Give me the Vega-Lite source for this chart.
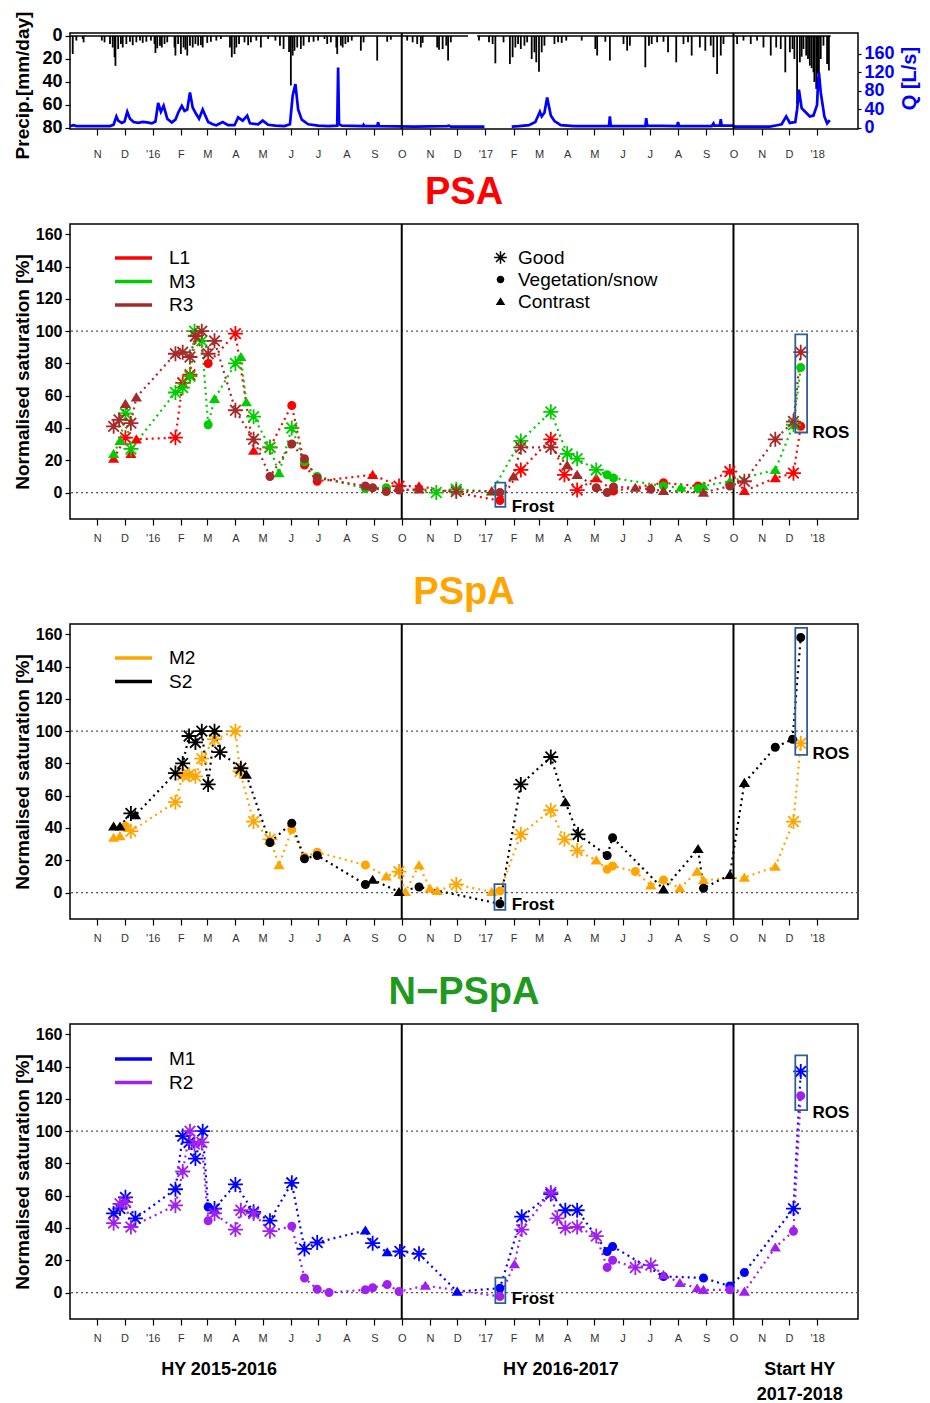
{
"$schema": "https://vega.github.io/schema/vega-lite/v6.json",
"padding": {"left": 12, "top": 10, "right": 8, "bottom": 0},
"background": "white",
"datasets": {
"precip": [
{"date":"2015-10-05","p":15.7},{"date":"2015-10-09","p":4},{"date":"2015-10-16","p":2.6},{"date":"2015-10-17","p":5.5},{"date":"2015-11-06","p":4},{"date":"2015-11-09","p":5.5},{"date":"2015-11-15","p":7},{"date":"2015-11-18","p":10},{"date":"2015-11-20","p":18.5},{"date":"2015-11-21","p":26},{"date":"2015-11-24","p":11.3},{"date":"2015-11-27","p":7},{"date":"2015-11-29","p":10},{"date":"2015-12-03","p":7},{"date":"2015-12-07","p":5},{"date":"2015-12-10","p":8},{"date":"2015-12-14","p":5.5},{"date":"2015-12-18","p":4},{"date":"2015-12-21","p":6},{"date":"2015-12-25","p":5},{"date":"2015-12-30","p":4},
{"date":"2016-01-03","p":7},{"date":"2016-01-04","p":14.8},{"date":"2016-01-06","p":10.7},{"date":"2016-01-09","p":8.4},{"date":"2016-01-11","p":10},{"date":"2016-01-14","p":7},{"date":"2016-01-17","p":5.5},{"date":"2016-01-25","p":10},{"date":"2016-01-26","p":17},{"date":"2016-01-29","p":7},{"date":"2016-02-01","p":15.7},{"date":"2016-02-04","p":10},{"date":"2016-02-06","p":11.9},{"date":"2016-02-08","p":17},{"date":"2016-02-11","p":8.4},{"date":"2016-02-14","p":10},{"date":"2016-02-17","p":7},{"date":"2016-02-20","p":8.4},{"date":"2016-02-23","p":8},{"date":"2016-02-25","p":10},{"date":"2016-03-01","p":6},{"date":"2016-03-05","p":5},{"date":"2016-03-11","p":4},{"date":"2016-03-16","p":2.6},{"date":"2016-03-26","p":10},{"date":"2016-03-28","p":18.5},{"date":"2016-03-31","p":15.7},{"date":"2016-04-02","p":10},{"date":"2016-04-05","p":7},{"date":"2016-04-11","p":5.5},{"date":"2016-04-15","p":8},{"date":"2016-04-18","p":5.5},{"date":"2016-04-24","p":4},{"date":"2016-04-29","p":10},{"date":"2016-05-07","p":2.6},{"date":"2016-05-15","p":4},{"date":"2016-05-20","p":8.4},{"date":"2016-05-24","p":11.3},{"date":"2016-05-30","p":14},{"date":"2016-06-01","p":43},{"date":"2016-06-03","p":17},{"date":"2016-06-05","p":12.8},{"date":"2016-06-08","p":10},{"date":"2016-06-12","p":11.3},{"date":"2016-06-15","p":8.4},{"date":"2016-06-21","p":5.5},{"date":"2016-06-26","p":5},{"date":"2016-07-01","p":4},{"date":"2016-07-08","p":2.6},{"date":"2016-07-11","p":7},{"date":"2016-07-15","p":5.5},{"date":"2016-07-21","p":10},{"date":"2016-07-22","p":15.7},{"date":"2016-07-26","p":8.4},{"date":"2016-07-28","p":10},{"date":"2016-07-31","p":7},{"date":"2016-08-03","p":5.5},{"date":"2016-08-07","p":4},{"date":"2016-08-17","p":12.8},{"date":"2016-08-20","p":5.5},{"date":"2016-09-04","p":21.4},{"date":"2016-09-15","p":5},{"date":"2016-09-19","p":3.2},
{"date":"2016-10-07","p":4},{"date":"2016-10-13","p":5.5},{"date":"2016-10-18","p":7},{"date":"2016-10-22","p":10},{"date":"2016-10-24","p":6},{"date":"2016-11-09","p":10},{"date":"2016-11-11","p":11.9},{"date":"2016-11-15","p":11.3},{"date":"2016-11-19","p":8.4},{"date":"2016-11-21","p":21.4},{"date":"2016-11-24","p":5.5},{"date":"2016-12-25","p":4},
{"date":"2017-01-05","p":5.5},{"date":"2017-01-09","p":7},{"date":"2017-01-12","p":23.8},{"date":"2017-01-21","p":5.5},{"date":"2017-01-28","p":24.4},{"date":"2017-01-31","p":18.5},{"date":"2017-02-03","p":10},{"date":"2017-02-06","p":7},{"date":"2017-02-09","p":11.3},{"date":"2017-02-13","p":8.4},{"date":"2017-02-16","p":5.5},{"date":"2017-02-21","p":20},{"date":"2017-02-24","p":14.2},{"date":"2017-02-26","p":22.9},{"date":"2017-03-01","p":31},{"date":"2017-03-04","p":14.2},{"date":"2017-03-07","p":8.4},{"date":"2017-03-18","p":7},{"date":"2017-03-22","p":5.5},{"date":"2017-03-26","p":6},{"date":"2017-03-31","p":4},{"date":"2017-04-17","p":4},{"date":"2017-05-02","p":11.3},{"date":"2017-05-04","p":17},{"date":"2017-05-13","p":5},{"date":"2017-05-18","p":21.4},{"date":"2017-06-02","p":7},{"date":"2017-06-06","p":12.8},{"date":"2017-06-09","p":8.4},{"date":"2017-06-26","p":27.2},{"date":"2017-06-30","p":8.4},{"date":"2017-07-03","p":7},{"date":"2017-07-09","p":5.5},{"date":"2017-07-16","p":5},{"date":"2017-07-21","p":14.2},{"date":"2017-07-30","p":22.9},{"date":"2017-08-07","p":7},{"date":"2017-08-12","p":5.5},{"date":"2017-08-16","p":17},{"date":"2017-08-25","p":10},{"date":"2017-08-31","p":12.8},{"date":"2017-09-06","p":8.4},{"date":"2017-09-09","p":18.5},{"date":"2017-09-13","p":33},{"date":"2017-09-17","p":17},{"date":"2017-09-20","p":7},{"date":"2017-10-05","p":7},{"date":"2017-10-12","p":4},{"date":"2017-10-20","p":7},{"date":"2017-10-27","p":4},{"date":"2017-11-03","p":10},{"date":"2017-11-11","p":17},{"date":"2017-11-17","p":10},{"date":"2017-11-22","p":11.3},{"date":"2017-11-27","p":31.6},{"date":"2017-12-02","p":14.2},{"date":"2017-12-05","p":11.3},{"date":"2017-12-07","p":20},{"date":"2017-12-10","p":59.1},{"date":"2017-12-13","p":22.9},{"date":"2017-12-15","p":18},{"date":"2017-12-17","p":11.3},{"date":"2017-12-20","p":17},{"date":"2017-12-22","p":20},{"date":"2017-12-24","p":25.8},{"date":"2017-12-26","p":28},{"date":"2017-12-28","p":31.6},{"date":"2017-12-29","p":40},{"date":"2017-12-31","p":46},{"date":"2018-01-01","p":33},{"date":"2018-01-03","p":37.4},{"date":"2018-01-05","p":20},{"date":"2018-01-08","p":8.4},{"date":"2018-01-12","p":24.4},{"date":"2018-01-14","p":30}
],
"flow": [
{"date":"2015-10-02","q":4,"seg":"a"},{"date":"2015-10-06","q":6,"seg":"a"},{"date":"2015-10-09","q":4,"seg":"a"},{"date":"2015-11-15","q":4,"seg":"a"},{"date":"2015-11-19","q":7,"seg":"a"},{"date":"2015-11-22","q":25,"seg":"a"},{"date":"2015-11-24","q":16,"seg":"a"},{"date":"2015-11-28","q":11,"seg":"a"},{"date":"2015-12-01","q":14,"seg":"a"},{"date":"2015-12-04","q":35,"seg":"a"},{"date":"2015-12-07","q":20,"seg":"a"},{"date":"2015-12-11","q":13,"seg":"a"},{"date":"2015-12-16","q":11,"seg":"a"},{"date":"2015-12-21","q":13,"seg":"a"},{"date":"2015-12-26","q":12,"seg":"a"},{"date":"2015-12-31","q":10,"seg":"a"},{"date":"2016-01-04","q":14,"seg":"a"},{"date":"2016-01-07","q":54,"seg":"a"},{"date":"2016-01-10","q":35,"seg":"a"},{"date":"2016-01-13","q":48,"seg":"a"},{"date":"2016-01-17","q":20,"seg":"a"},{"date":"2016-01-22","q":12,"seg":"a"},{"date":"2016-01-26","q":18,"seg":"a"},{"date":"2016-01-29","q":33,"seg":"a"},{"date":"2016-02-02","q":48,"seg":"a"},{"date":"2016-02-05","q":37,"seg":"a"},{"date":"2016-02-08","q":40,"seg":"a"},{"date":"2016-02-11","q":77,"seg":"a"},{"date":"2016-02-14","q":44,"seg":"a"},{"date":"2016-02-17","q":33,"seg":"a"},{"date":"2016-02-21","q":20,"seg":"a"},{"date":"2016-02-25","q":40,"seg":"a"},{"date":"2016-03-02","q":13,"seg":"a"},{"date":"2016-03-07","q":8,"seg":"a"},{"date":"2016-03-11","q":6,"seg":"a"},{"date":"2016-03-18","q":13,"seg":"a"},{"date":"2016-03-24","q":6,"seg":"a"},{"date":"2016-03-31","q":6,"seg":"a"},{"date":"2016-04-04","q":23,"seg":"a"},{"date":"2016-04-09","q":16,"seg":"a"},{"date":"2016-04-14","q":27,"seg":"a"},{"date":"2016-04-17","q":10,"seg":"a"},{"date":"2016-04-26","q":8,"seg":"a"},{"date":"2016-05-01","q":16,"seg":"a"},{"date":"2016-05-07","q":7,"seg":"a"},{"date":"2016-05-15","q":5,"seg":"a"},{"date":"2016-05-25","q":4,"seg":"a"},{"date":"2016-05-31","q":8,"seg":"a"},{"date":"2016-06-03","q":70,"seg":"a"},{"date":"2016-06-06","q":95,"seg":"a"},{"date":"2016-06-09","q":40,"seg":"a"},{"date":"2016-06-13","q":18,"seg":"a"},{"date":"2016-06-20","q":8,"seg":"a"},{"date":"2016-07-01","q":5,"seg":"a"},{"date":"2016-07-12","q":4,"seg":"a"},{"date":"2016-07-22","q":5,"seg":"a"},{"date":"2016-07-23","q":131,"seg":"a"},{"date":"2016-07-24","q":8,"seg":"a"},{"date":"2016-07-27","q":5,"seg":"a"},{"date":"2016-08-19","q":4,"seg":"a"},{"date":"2016-08-20","q":7,"seg":"a"},{"date":"2016-08-21","q":4,"seg":"a"},{"date":"2016-09-04","q":4,"seg":"a"},{"date":"2016-09-05","q":12,"seg":"a"},{"date":"2016-09-06","q":4,"seg":"a"},{"date":"2016-10-15","q":3,"seg":"a"},{"date":"2016-11-20","q":4,"seg":"a"},{"date":"2016-11-22","q":5,"seg":"a"},{"date":"2016-11-24","q":3,"seg":"a"},{"date":"2016-12-31","q":3,"seg":"a"},
{"date":"2017-01-30","q":3,"seg":"b"},{"date":"2017-02-07","q":4,"seg":"b"},{"date":"2017-02-18","q":6,"seg":"b"},{"date":"2017-02-25","q":13,"seg":"b"},{"date":"2017-03-02","q":35,"seg":"b"},{"date":"2017-03-04","q":25,"seg":"b"},{"date":"2017-03-07","q":33,"seg":"b"},{"date":"2017-03-10","q":66,"seg":"b"},{"date":"2017-03-14","q":27,"seg":"b"},{"date":"2017-03-18","q":15,"seg":"b"},{"date":"2017-03-25","q":6,"seg":"b"},{"date":"2017-04-09","q":4,"seg":"b"},{"date":"2017-05-17","q":4,"seg":"b"},{"date":"2017-05-18","q":25,"seg":"b"},{"date":"2017-05-19","q":4,"seg":"b"},{"date":"2017-06-26","q":4,"seg":"b"},{"date":"2017-06-27","q":21,"seg":"b"},{"date":"2017-06-28","q":5,"seg":"b"},{"date":"2017-07-31","q":4,"seg":"b"},{"date":"2017-08-01","q":13,"seg":"b"},{"date":"2017-08-02","q":4,"seg":"b"},{"date":"2017-09-07","q":4,"seg":"b"},{"date":"2017-09-09","q":10,"seg":"b"},{"date":"2017-09-10","q":5,"seg":"b"},{"date":"2017-09-16","q":5,"seg":"b"},{"date":"2017-09-17","q":19,"seg":"b"},{"date":"2017-09-18","q":5,"seg":"b"},{"date":"2017-10-01","q":5,"seg":"b"},{"date":"2017-10-02","q":3,"seg":"b"},{"date":"2017-11-10","q":3,"seg":"b"},{"date":"2017-11-18","q":6,"seg":"b"},{"date":"2017-11-23","q":8,"seg":"b"},{"date":"2017-11-28","q":25,"seg":"b"},{"date":"2017-12-02","q":11,"seg":"b"},{"date":"2017-12-08","q":13,"seg":"b"},{"date":"2017-12-10","q":40,"seg":"b"},{"date":"2017-12-12","q":83,"seg":"b"},{"date":"2017-12-15","q":43,"seg":"b"},{"date":"2017-12-20","q":33,"seg":"b"},{"date":"2017-12-24","q":25,"seg":"b"},{"date":"2017-12-28","q":27,"seg":"b"},{"date":"2018-01-01","q":50,"seg":"b"},{"date":"2018-01-02","q":99,"seg":"b"},{"date":"2018-01-03","q":120,"seg":"b"},{"date":"2018-01-05","q":77,"seg":"b"},{"date":"2018-01-09","q":25,"seg":"b"},{"date":"2018-01-12","q":10,"seg":"b"},{"date":"2018-01-15","q":17,"seg":"b"}
],
"psa": [
{"date":"2015-11-19","v":21,"series":"L1","q":"C"},{"date":"2015-12-02","v":34,"series":"L1","q":"G"},{"date":"2015-12-08","v":24,"series":"L1","q":"C"},{"date":"2015-12-14","v":33,"series":"L1","q":"C"},{"date":"2016-01-26","v":34,"series":"L1","q":"G"},{"date":"2016-02-03","v":68,"series":"L1","q":"G"},{"date":"2016-02-11","v":73,"series":"L1","q":"G"},{"date":"2016-02-17","v":97,"series":"L1","q":"G"},{"date":"2016-03-02","v":80,"series":"L1","q":"V"},{"date":"2016-04-01","v":98.5,"series":"L1","q":"G"},{"date":"2016-04-21","v":26,"series":"L1","q":"C"},{"date":"2016-05-09","v":28,"series":"L1","q":"G"},{"date":"2016-06-02","v":54,"series":"L1","q":"V"},{"date":"2016-06-16","v":17,"series":"L1","q":"V"},{"date":"2016-06-30","v":7,"series":"L1","q":"V"},{"date":"2016-08-30","v":11,"series":"L1","q":"C"},{"date":"2016-09-28","v":4,"series":"L1","q":"G"},{"date":"2016-10-20","v":4,"series":"L1","q":"C"},{"date":"2017-01-17","v":-5,"series":"L1","q":"V"},{"date":"2017-02-09","v":14,"series":"L1","q":"G"},{"date":"2017-03-14","v":33,"series":"L1","q":"G"},{"date":"2017-03-29","v":11,"series":"L1","q":"G"},{"date":"2017-04-12","v":1.5,"series":"L1","q":"G"},{"date":"2017-05-03","v":9,"series":"L1","q":"C"},{"date":"2017-05-22","v":1,"series":"L1","q":"V"},{"date":"2017-07-16","v":6,"series":"L1","q":"V"},{"date":"2017-08-23","v":4,"series":"L1","q":"V"},{"date":"2017-09-27","v":13,"series":"L1","q":"G"},{"date":"2017-10-13","v":1,"series":"L1","q":"C"},{"date":"2017-11-16","v":9,"series":"L1","q":"C"},{"date":"2017-12-06","v":12,"series":"L1","q":"G"},{"date":"2017-12-14","v":41,"series":"L1","q":"V"},
{"date":"2015-11-19","v":24,"series":"M3","q":"C"},{"date":"2015-11-26","v":32,"series":"M3","q":"C"},{"date":"2015-12-02","v":49,"series":"M3","q":"G"},{"date":"2015-12-08","v":27,"series":"M3","q":"G"},{"date":"2016-01-26","v":62,"series":"M3","q":"G"},{"date":"2016-02-03","v":65,"series":"M3","q":"G"},{"date":"2016-02-11","v":72,"series":"M3","q":"G"},{"date":"2016-02-16","v":100,"series":"M3","q":"G"},{"date":"2016-02-24","v":94,"series":"M3","q":"G"},{"date":"2016-03-02","v":42,"series":"M3","q":"V"},{"date":"2016-03-09","v":58,"series":"M3","q":"C"},{"date":"2016-04-01","v":80,"series":"M3","q":"G"},{"date":"2016-04-07","v":84,"series":"M3","q":"C"},{"date":"2016-04-13","v":56,"series":"M3","q":"C"},{"date":"2016-04-21","v":47,"series":"M3","q":"G"},{"date":"2016-05-09","v":28,"series":"M3","q":"G"},{"date":"2016-05-19","v":12,"series":"M3","q":"C"},{"date":"2016-06-02","v":40,"series":"M3","q":"G"},{"date":"2016-06-16","v":19,"series":"M3","q":"V"},{"date":"2016-06-30","v":10,"series":"M3","q":"V"},{"date":"2016-08-22","v":2.5,"series":"M3","q":"V"},{"date":"2016-09-14","v":3,"series":"M3","q":"V"},{"date":"2016-11-08","v":0,"series":"M3","q":"G"},{"date":"2016-11-30","v":2,"series":"M3","q":"G"},{"date":"2017-01-08","v":0.5,"series":"M3","q":"C"},{"date":"2017-02-09","v":32,"series":"M3","q":"G"},{"date":"2017-03-14","v":50,"series":"M3","q":"G"},{"date":"2017-04-01","v":24,"series":"M3","q":"G"},{"date":"2017-04-12","v":21,"series":"M3","q":"G"},{"date":"2017-05-03","v":14,"series":"M3","q":"G"},{"date":"2017-05-15","v":11,"series":"M3","q":"V"},{"date":"2017-05-22","v":9,"series":"M3","q":"V"},{"date":"2017-07-16","v":4,"series":"M3","q":"V"},{"date":"2017-08-04","v":3,"series":"M3","q":"C"},{"date":"2017-08-23","v":2.5,"series":"M3","q":"V"},{"date":"2017-08-29","v":4,"series":"M3","q":"C"},{"date":"2017-09-27","v":7,"series":"M3","q":"C"},{"date":"2017-11-16","v":14,"series":"M3","q":"C"},{"date":"2017-12-06","v":42,"series":"M3","q":"G"},{"date":"2017-12-14","v":77.5,"series":"M3","q":"V"},
{"date":"2015-11-19","v":41,"series":"R3","q":"G"},{"date":"2015-11-25","v":45,"series":"R3","q":"G"},{"date":"2015-12-02","v":55,"series":"R3","q":"C"},{"date":"2015-12-08","v":43,"series":"R3","q":"G"},{"date":"2015-12-14","v":59,"series":"R3","q":"C"},{"date":"2016-01-26","v":86,"series":"R3","q":"G"},{"date":"2016-02-03","v":87,"series":"R3","q":"G"},{"date":"2016-02-11","v":84,"series":"R3","q":"G"},{"date":"2016-02-17","v":97,"series":"R3","q":"G"},{"date":"2016-02-24","v":100,"series":"R3","q":"G"},{"date":"2016-03-02","v":86,"series":"R3","q":"G"},{"date":"2016-03-09","v":94,"series":"R3","q":"G"},{"date":"2016-04-01","v":51,"series":"R3","q":"G"},{"date":"2016-04-21","v":33,"series":"R3","q":"G"},{"date":"2016-05-09","v":10,"series":"R3","q":"V"},{"date":"2016-06-02","v":30,"series":"R3","q":"V"},{"date":"2016-06-16","v":21,"series":"R3","q":"V"},{"date":"2016-06-30","v":9,"series":"R3","q":"V"},{"date":"2016-08-22","v":4,"series":"R3","q":"V"},{"date":"2016-08-30","v":3,"series":"R3","q":"V"},{"date":"2016-09-14","v":0.6,"series":"R3","q":"V"},{"date":"2016-09-28","v":1.5,"series":"R3","q":"V"},{"date":"2016-10-20","v":2,"series":"R3","q":"C"},{"date":"2016-11-30","v":0.6,"series":"R3","q":"G"},{"date":"2017-01-08","v":1,"series":"R3","q":"C"},{"date":"2017-01-17","v":0,"series":"R3","q":"V"},{"date":"2017-02-01","v":10,"series":"R3","q":"C"},{"date":"2017-02-09","v":28,"series":"R3","q":"G"},{"date":"2017-03-14","v":28,"series":"R3","q":"G"},{"date":"2017-04-01","v":17,"series":"R3","q":"C"},{"date":"2017-04-12","v":11,"series":"R3","q":"C"},{"date":"2017-05-03","v":3,"series":"R3","q":"V"},{"date":"2017-05-15","v":0,"series":"R3","q":"V"},{"date":"2017-05-22","v":3.5,"series":"R3","q":"V"},{"date":"2017-06-15","v":3,"series":"R3","q":"C"},{"date":"2017-07-02","v":2,"series":"R3","q":"V"},{"date":"2017-07-16","v":1,"series":"R3","q":"C"},{"date":"2017-08-29","v":0,"series":"R3","q":"C"},{"date":"2017-09-27","v":4,"series":"R3","q":"V"},{"date":"2017-10-13","v":7,"series":"R3","q":"G"},{"date":"2017-11-16","v":33,"series":"R3","q":"G"},{"date":"2017-12-06","v":44,"series":"R3","q":"G"},{"date":"2017-12-14","v":87,"series":"R3","q":"G"}
],
"pspa": [
{"date":"2015-11-19","v":34,"series":"M2","q":"C"},{"date":"2015-11-26","v":35,"series":"M2","q":"C"},{"date":"2015-12-02","v":41,"series":"M2","q":"V"},{"date":"2015-12-08","v":38,"series":"M2","q":"G"},{"date":"2016-01-26","v":56,"series":"M2","q":"G"},{"date":"2016-02-03","v":73,"series":"M2","q":"G"},{"date":"2016-02-10","v":73,"series":"M2","q":"G"},{"date":"2016-02-17","v":72,"series":"M2","q":"G"},{"date":"2016-02-24","v":83,"series":"M2","q":"G"},{"date":"2016-03-09","v":95,"series":"M2","q":"G"},{"date":"2016-04-01","v":100,"series":"M2","q":"G"},{"date":"2016-04-06","v":75,"series":"M2","q":"G"},{"date":"2016-04-21","v":44,"series":"M2","q":"G"},{"date":"2016-05-09","v":33,"series":"M2","q":"G"},{"date":"2016-05-19","v":17,"series":"M2","q":"C"},{"date":"2016-06-02","v":39,"series":"M2","q":"V"},{"date":"2016-06-16","v":22,"series":"M2","q":"V"},{"date":"2016-06-30","v":25,"series":"M2","q":"V"},{"date":"2016-08-22","v":17,"series":"M2","q":"V"},{"date":"2016-09-14","v":10,"series":"M2","q":"C"},{"date":"2016-09-28","v":13,"series":"M2","q":"G"},{"date":"2016-10-05","v":0.4,"series":"M2","q":"C"},{"date":"2016-10-20","v":17,"series":"M2","q":"C"},{"date":"2016-11-01","v":2.5,"series":"M2","q":"C"},{"date":"2016-11-09","v":1,"series":"M2","q":"C"},{"date":"2016-11-30","v":5,"series":"M2","q":"G"},{"date":"2017-01-08","v":0.4,"series":"M2","q":"C"},{"date":"2017-01-17","v":1,"series":"M2","q":"V"},{"date":"2017-02-09","v":36,"series":"M2","q":"G"},{"date":"2017-03-14","v":51,"series":"M2","q":"G"},{"date":"2017-03-29","v":33,"series":"M2","q":"G"},{"date":"2017-04-12","v":26,"series":"M2","q":"G"},{"date":"2017-05-03","v":20,"series":"M2","q":"C"},{"date":"2017-05-15","v":14.5,"series":"M2","q":"V"},{"date":"2017-05-21","v":16.5,"series":"M2","q":"V"},{"date":"2017-06-15","v":13,"series":"M2","q":"V"},{"date":"2017-07-02","v":4.5,"series":"M2","q":"C"},{"date":"2017-07-16","v":7.7,"series":"M2","q":"V"},{"date":"2017-08-03","v":2.7,"series":"M2","q":"C"},{"date":"2017-08-22","v":13,"series":"M2","q":"C"},{"date":"2017-08-29","v":7.7,"series":"M2","q":"C"},{"date":"2017-10-13","v":9.3,"series":"M2","q":"C"},{"date":"2017-11-16","v":16,"series":"M2","q":"C"},{"date":"2017-12-06","v":44,"series":"M2","q":"G"},{"date":"2017-12-14","v":92.5,"series":"M2","q":"G"},
{"date":"2015-11-19","v":41,"series":"S2","q":"C"},{"date":"2015-11-26","v":41,"series":"S2","q":"C"},{"date":"2015-12-08","v":49,"series":"S2","q":"G"},{"date":"2015-12-13","v":48,"series":"S2","q":"C"},{"date":"2016-01-26","v":74,"series":"S2","q":"G"},{"date":"2016-02-03","v":80,"series":"S2","q":"G"},{"date":"2016-02-10","v":97,"series":"S2","q":"G"},{"date":"2016-02-17","v":93,"series":"S2","q":"G"},{"date":"2016-02-24","v":100,"series":"S2","q":"G"},{"date":"2016-03-02","v":67,"series":"S2","q":"G"},{"date":"2016-03-09","v":100,"series":"S2","q":"G"},{"date":"2016-03-15","v":87,"series":"S2","q":"G"},{"date":"2016-04-07","v":77,"series":"S2","q":"G"},{"date":"2016-04-13","v":73,"series":"S2","q":"C"},{"date":"2016-05-09","v":31,"series":"S2","q":"V"},{"date":"2016-06-02","v":43,"series":"S2","q":"V"},{"date":"2016-06-16","v":21,"series":"S2","q":"V"},{"date":"2016-06-30","v":23,"series":"S2","q":"V"},{"date":"2016-08-22","v":5,"series":"S2","q":"V"},{"date":"2016-08-30","v":8,"series":"S2","q":"C"},{"date":"2016-09-28","v":0.4,"series":"S2","q":"C"},{"date":"2016-10-20","v":3.5,"series":"S2","q":"V"},{"date":"2017-01-17","v":-7,"series":"S2","q":"V"},{"date":"2017-02-09","v":67,"series":"S2","q":"G"},{"date":"2017-03-14","v":84,"series":"S2","q":"G"},{"date":"2017-03-30","v":56,"series":"S2","q":"C"},{"date":"2017-04-13","v":36,"series":"S2","q":"G"},{"date":"2017-05-15","v":23,"series":"S2","q":"V"},{"date":"2017-05-21","v":34,"series":"S2","q":"V"},{"date":"2017-07-16","v":2,"series":"S2","q":"C"},{"date":"2017-08-23","v":27,"series":"S2","q":"C"},{"date":"2017-08-29","v":2.7,"series":"S2","q":"V"},{"date":"2017-09-27","v":11,"series":"S2","q":"C"},{"date":"2017-10-13","v":68,"series":"S2","q":"C"},{"date":"2017-11-16","v":90,"series":"S2","q":"V"},{"date":"2017-12-05","v":95,"series":"S2","q":"V"},{"date":"2017-12-14","v":158,"series":"S2","q":"V"}
],
"npspa": [
{"date":"2015-11-19","v":49,"series":"M1","q":"G"},{"date":"2015-11-26","v":52,"series":"M1","q":"G"},{"date":"2015-12-02","v":59,"series":"M1","q":"G"},{"date":"2015-12-13","v":46,"series":"M1","q":"G"},{"date":"2016-01-26","v":64,"series":"M1","q":"G"},{"date":"2016-02-03","v":97,"series":"M1","q":"G"},{"date":"2016-02-10","v":93,"series":"M1","q":"G"},{"date":"2016-02-17","v":83,"series":"M1","q":"G"},{"date":"2016-02-25","v":100,"series":"M1","q":"G"},{"date":"2016-03-02","v":53,"series":"M1","q":"V"},{"date":"2016-03-09","v":52,"series":"M1","q":"G"},{"date":"2016-04-01","v":67,"series":"M1","q":"G"},{"date":"2016-04-21","v":50,"series":"M1","q":"G"},{"date":"2016-05-09","v":44.5,"series":"M1","q":"G"},{"date":"2016-06-02","v":68,"series":"M1","q":"G"},{"date":"2016-06-16","v":27,"series":"M1","q":"G"},{"date":"2016-06-30","v":31,"series":"M1","q":"G"},{"date":"2016-08-22","v":38.5,"series":"M1","q":"C"},{"date":"2016-08-30","v":30.6,"series":"M1","q":"G"},{"date":"2016-09-15","v":25,"series":"M1","q":"C"},{"date":"2016-09-29","v":25.5,"series":"M1","q":"G"},{"date":"2016-10-20","v":24,"series":"M1","q":"G"},{"date":"2016-12-01","v":0.6,"series":"M1","q":"C"},{"date":"2017-01-17","v":2.7,"series":"M1","q":"V"},{"date":"2017-02-10","v":47,"series":"M1","q":"G"},{"date":"2017-03-14","v":61,"series":"M1","q":"G"},{"date":"2017-03-30","v":51,"series":"M1","q":"G"},{"date":"2017-04-12","v":51,"series":"M1","q":"G"},{"date":"2017-05-15","v":25.5,"series":"M1","q":"V"},{"date":"2017-05-21","v":28.6,"series":"M1","q":"V"},{"date":"2017-07-16","v":10,"series":"M1","q":"V"},{"date":"2017-08-29","v":9,"series":"M1","q":"V"},{"date":"2017-09-27","v":4,"series":"M1","q":"V"},{"date":"2017-10-13","v":12.4,"series":"M1","q":"V"},{"date":"2017-12-06","v":52,"series":"M1","q":"G"},{"date":"2017-12-14","v":137,"series":"M1","q":"G"},
{"date":"2015-11-19","v":43,"series":"R2","q":"G"},{"date":"2015-11-26","v":55,"series":"R2","q":"G"},{"date":"2015-12-02","v":56,"series":"R2","q":"G"},{"date":"2015-12-08","v":40.6,"series":"R2","q":"G"},{"date":"2016-01-26","v":54,"series":"R2","q":"G"},{"date":"2016-02-03","v":75,"series":"R2","q":"G"},{"date":"2016-02-11","v":100,"series":"R2","q":"G"},{"date":"2016-02-16","v":92,"series":"R2","q":"G"},{"date":"2016-02-24","v":93,"series":"R2","q":"G"},{"date":"2016-03-02","v":44.5,"series":"R2","q":"V"},{"date":"2016-03-09","v":49,"series":"R2","q":"G"},{"date":"2016-04-01","v":39,"series":"R2","q":"G"},{"date":"2016-04-07","v":51,"series":"R2","q":"G"},{"date":"2016-04-21","v":49,"series":"R2","q":"G"},{"date":"2016-05-09","v":38,"series":"R2","q":"G"},{"date":"2016-06-02","v":41,"series":"R2","q":"V"},{"date":"2016-06-16","v":9,"series":"R2","q":"V"},{"date":"2016-06-30","v":2,"series":"R2","q":"V"},{"date":"2016-07-13","v":0,"series":"R2","q":"V"},{"date":"2016-08-22","v":1.7,"series":"R2","q":"V"},{"date":"2016-08-30","v":3,"series":"R2","q":"V"},{"date":"2016-09-15","v":5,"series":"R2","q":"V"},{"date":"2016-09-28","v":0.6,"series":"R2","q":"V"},{"date":"2016-10-27","v":4.3,"series":"R2","q":"C"},{"date":"2017-01-17","v":-2.5,"series":"R2","q":"V"},{"date":"2017-02-02","v":17.6,"series":"R2","q":"C"},{"date":"2017-02-10","v":39,"series":"R2","q":"G"},{"date":"2017-03-14","v":62,"series":"R2","q":"G"},{"date":"2017-03-21","v":46,"series":"R2","q":"G"},{"date":"2017-03-30","v":40,"series":"R2","q":"G"},{"date":"2017-04-12","v":40.6,"series":"R2","q":"G"},{"date":"2017-05-03","v":35,"series":"R2","q":"G"},{"date":"2017-05-15","v":15.5,"series":"R2","q":"V"},{"date":"2017-05-21","v":20,"series":"R2","q":"V"},{"date":"2017-06-15","v":15.5,"series":"R2","q":"G"},{"date":"2017-07-02","v":17,"series":"R2","q":"G"},{"date":"2017-07-16","v":11,"series":"R2","q":"C"},{"date":"2017-08-03","v":6,"series":"R2","q":"C"},{"date":"2017-08-22","v":2.7,"series":"R2","q":"C"},{"date":"2017-08-29","v":1.7,"series":"R2","q":"C"},{"date":"2017-09-27","v":1.7,"series":"R2","q":"V"},{"date":"2017-10-13","v":0.6,"series":"R2","q":"C"},{"date":"2017-11-16","v":28,"series":"R2","q":"C"},{"date":"2017-12-06","v":38,"series":"R2","q":"V"},{"date":"2017-12-14","v":122,"series":"R2","q":"V"}
],
"years": [{"date":"2016-10-01"},{"date":"2017-10-01"}],
"hlines": [{"v":0},{"v":100}]
},
"spacing": 95,
"bounds": "flush",
"resolve": {"scale": {"color": "independent", "stroke": "independent", "shape": "independent"}, "legend": {"color": "independent", "stroke": "independent", "shape": "independent"}},
"vconcat": [
{
"width": 788, "height": 96,
"layer": [
 {"layer": [
  {"data": {"values": [{"date":"2015-10-02","date2":"2016-12-13"},{"date":"2016-12-23","date2":"2018-01-16"}]},
   "mark": {"type": "rule", "strokeWidth": 1.5, "color": "black"},
   "encoding": {"x": {"field":"date","type":"temporal","scale":{"domain":[{"year":2015,"month":10,"date":2,"utc":true},{"year":2018,"month":2,"date":15,"utc":true}]}}, "x2": {"field":"date2"}, "y": {"datum":0,"type":"quantitative","scale":{"domain":[-2.6,80.9],"reverse":true}}}},
  {"data": {"name": "precip"},
   "mark": {"type": "rule", "strokeWidth": 1.8, "color": "black"},
   "encoding": {
    "x": {"field":"date","type":"temporal","scale":{"domain":[{"year":2015,"month":10,"date":2,"utc":true},{"year":2018,"month":2,"date":15,"utc":true}]},
      "axis":{"title":null,"tickCount":100,"labelOverlap":false,"labelPadding":13,"labelExpr":"utcmonth(datum.value)==0 ? \"'\"+utcFormat(datum.value,'%y') : slice(utcFormat(datum.value,'%b'),0,1)","values":[{"year":2015,"month":11,"date":1,"utc":true},{"year":2015,"month":12,"date":1,"utc":true},{"year":2016,"month":1,"date":1,"utc":true},{"year":2016,"month":2,"date":1,"utc":true},{"year":2016,"month":3,"date":1,"utc":true},{"year":2016,"month":4,"date":1,"utc":true},{"year":2016,"month":5,"date":1,"utc":true},{"year":2016,"month":6,"date":1,"utc":true},{"year":2016,"month":7,"date":1,"utc":true},{"year":2016,"month":8,"date":1,"utc":true},{"year":2016,"month":9,"date":1,"utc":true},{"year":2016,"month":10,"date":1,"utc":true},{"year":2016,"month":11,"date":1,"utc":true},{"year":2016,"month":12,"date":1,"utc":true},{"year":2017,"month":1,"date":1,"utc":true},{"year":2017,"month":2,"date":1,"utc":true},{"year":2017,"month":3,"date":1,"utc":true},{"year":2017,"month":4,"date":1,"utc":true},{"year":2017,"month":5,"date":1,"utc":true},{"year":2017,"month":6,"date":1,"utc":true},{"year":2017,"month":7,"date":1,"utc":true},{"year":2017,"month":8,"date":1,"utc":true},{"year":2017,"month":9,"date":1,"utc":true},{"year":2017,"month":10,"date":1,"utc":true},{"year":2017,"month":11,"date":1,"utc":true},{"year":2017,"month":12,"date":1,"utc":true},{"year":2018,"month":1,"date":1,"utc":true}]}},
    "y": {"field":"p","type":"quantitative","scale":{"domain":[-2.6,80.9],"reverse":true},"axis":{"values":[0,20,40,60,80],"tickCount":100,"labelOverlap":false,"title":"Precip.[mm/day]","titleY":52,"labelFontSize":18}},
    "y2": {"datum": 0}
   }}
 ]},
 {"data": {"name": "flow"},
  "mark": {"type": "line", "color": "#0000ff", "strokeWidth": 2.7},
  "encoding": {
   "x": {"field":"date","type":"temporal","scale":{"domain":[{"year":2015,"month":10,"date":2,"utc":true},{"year":2018,"month":2,"date":15,"utc":true}]}},
   "y": {"field":"q","type":"quantitative","scale":{"domain":[-2.2,205.4]},"axis":{"orient":"right","values":[0,40,80,120,160],"tickCount":100,"labelOverlap":false,"title":"Q [L/s]","titleColor":"#0000ff","labelColor":"#0000ff","labelFontSize":18,"titleFontSize":20,"titleAngle":270,"titleBaseline":"top","titleX":41,"titleY":45,"tickSize":3,"labelPadding":3}},
   "detail": {"field": "seg"}
  }},
 {"data": {"name": "years"},
  "mark": {"type": "rule", "strokeWidth": 2, "color": "black"},
  "encoding": {"x": {"field":"date","type":"temporal","scale":{"domain":[{"year":2015,"month":10,"date":2,"utc":true},{"year":2018,"month":2,"date":15,"utc":true}]}}}}
],
"resolve": {"scale": {"y": "independent"}}
},
{
"spacing": 105,
"bounds": "flush",
"resolve": {"scale": {"color": "independent", "stroke": "independent", "shape": "independent"}, "legend": {"color": "independent", "stroke": "independent", "shape": "independent"}},
"vconcat": [
{
"width": 788, "height": 295,
"title": {"text": "PSA", "color": "#ff0000"},
"layer": [
 {"data": {"name": "hlines"}, "mark": {"type": "rule", "strokeDash": [2, 3], "color": "#555555", "strokeWidth": 1.3},
  "encoding": {"y": {"field":"v","type":"quantitative","scale":{"domain":[-16.4,166.4]}}}},
 {"data": {"name": "years"}, "mark": {"type": "rule", "strokeWidth": 2, "color": "black"},
  "encoding": {"x": {"field":"date","type":"temporal","scale":{"domain":[{"year":2015,"month":10,"date":2,"utc":true},{"year":2018,"month":2,"date":15,"utc":true}]}}}},
 {"data": {"name": "psa"}, "mark": {"type": "line", "strokeDash": [2, 4], "strokeWidth": 2.2},
  "encoding": {
   "x": {"field":"date","type":"temporal","scale":{"domain":[{"year":2015,"month":10,"date":2,"utc":true},{"year":2018,"month":2,"date":15,"utc":true}]}},
   "y": {"field":"v","type":"quantitative","scale":{"domain":[-16.4,166.4]}},
   "stroke": {"field":"series","type":"nominal","scale":{"domain":["L1","M3","R3"],"range":["#ff0000","#00cd00","#a52a2a"]},"legend":{"orient":"none","legendX":52.5,"legendY":23,"title":null,"symbolType":"M-2,0H2","symbolSize":342,"symbolStrokeWidth":3.5,"symbolDash":[1,0],"labelOffset":24.5,"rowPadding":2.5}}
  }},
 {"data": {"name": "psa"}, "mark": {"type": "point", "filled": true, "opacity": 1, "size": 225, "strokeWidth": 0},
  "encoding": {
   "x": {"field":"date","type":"temporal","scale":{"domain":[{"year":2015,"month":10,"date":2,"utc":true},{"year":2018,"month":2,"date":15,"utc":true}]},
      "axis":{"title":null,"tickCount":100,"labelOverlap":false,"labelExpr":"utcmonth(datum.value)==0 ? \"'\"+utcFormat(datum.value,'%y') : slice(utcFormat(datum.value,'%b'),0,1)","values":[{"year":2015,"month":11,"date":1,"utc":true},{"year":2015,"month":12,"date":1,"utc":true},{"year":2016,"month":1,"date":1,"utc":true},{"year":2016,"month":2,"date":1,"utc":true},{"year":2016,"month":3,"date":1,"utc":true},{"year":2016,"month":4,"date":1,"utc":true},{"year":2016,"month":5,"date":1,"utc":true},{"year":2016,"month":6,"date":1,"utc":true},{"year":2016,"month":7,"date":1,"utc":true},{"year":2016,"month":8,"date":1,"utc":true},{"year":2016,"month":9,"date":1,"utc":true},{"year":2016,"month":10,"date":1,"utc":true},{"year":2016,"month":11,"date":1,"utc":true},{"year":2016,"month":12,"date":1,"utc":true},{"year":2017,"month":1,"date":1,"utc":true},{"year":2017,"month":2,"date":1,"utc":true},{"year":2017,"month":3,"date":1,"utc":true},{"year":2017,"month":4,"date":1,"utc":true},{"year":2017,"month":5,"date":1,"utc":true},{"year":2017,"month":6,"date":1,"utc":true},{"year":2017,"month":7,"date":1,"utc":true},{"year":2017,"month":8,"date":1,"utc":true},{"year":2017,"month":9,"date":1,"utc":true},{"year":2017,"month":10,"date":1,"utc":true},{"year":2017,"month":11,"date":1,"utc":true},{"year":2017,"month":12,"date":1,"utc":true},{"year":2018,"month":1,"date":1,"utc":true}]}},
   "y": {"field":"v","type":"quantitative","scale":{"domain":[-16.4,166.4]},"axis":{"values":[0,20,40,60,80,100,120,140,160],"tickCount":100,"labelOverlap":false,"title":"Normalised saturation [%]"}},
   "color": {"field":"series","type":"nominal","scale":{"domain":["L1","M3","R3"],"range":["#ff0000","#00cd00","#a52a2a"]},"legend":null},
   "shape": {"field":"q","type":"nominal","scale":{"domain":["G","V","C"],"range":["M-0.12,-1H0.12V1H-0.12ZM-1,-0.12H1V0.12H-1ZM-0.792,-0.622L-0.622,-0.792L0.792,0.622L0.622,0.792ZM-0.622,0.792L-0.792,0.622L0.622,-0.792L0.792,-0.622Z","M0.6,0A0.6,0.6,0,1,1,-0.6,0A0.6,0.6,0,1,1,0.6,0Z","M0,-0.66L0.75,0.55L-0.75,0.55Z"]},
     "legend":{"orient":"none","legendX":421,"legendY":24,"title":null,"symbolSize":160,"symbolFillColor":"black","symbolStrokeColor":"black","symbolStrokeWidth":0,"symbolOpacity":1,"labelOffset":8,"rowPadding":2,"labelExpr":"datum.label=='G' ? 'Good' : datum.label=='V' ? 'Vegetation/snow' : 'Contrast'"}}
  }},
 {"data": {"values": [{"date":"2017-01-12","date2":"2017-01-23","v":6.2,"v2":-8.9},{"date":"2017-12-08","date2":"2017-12-21","v":98,"v2":37.2}]},
  "mark": {"type": "rect", "filled": false, "color": "#2f5f9a", "strokeWidth": 1.8},
  "encoding": {"x": {"field":"date","type":"temporal","scale":{"domain":[{"year":2015,"month":10,"date":2,"utc":true},{"year":2018,"month":2,"date":15,"utc":true}]}}, "x2": {"field":"date2"}, "y": {"field":"v","type":"quantitative","scale":{"domain":[-16.4,166.4]}}, "y2": {"field":"v2"}}},
 {"data": {"values": [{"date":"2017-01-30","v":-8.9,"label":"Frost"},{"date":"2017-12-27","v":37,"label":"ROS"}]},
  "mark": {"type": "text", "align": "left", "baseline": "middle", "fontSize": 17, "fontWeight": "bold", "font": "Liberation Sans", "color": "black"},
  "encoding": {"x": {"field":"date","type":"temporal","scale":{"domain":[{"year":2015,"month":10,"date":2,"utc":true},{"year":2018,"month":2,"date":15,"utc":true}]}}, "y": {"field":"v","type":"quantitative","scale":{"domain":[-16.4,166.4]}}, "text": {"field":"label"}}}
]
},
{
"width": 788, "height": 295,
"title": {"text": "PSpA", "color": "#ffa500"},
"layer": [
 {"data": {"name": "hlines"}, "mark": {"type": "rule", "strokeDash": [2, 3], "color": "#555555", "strokeWidth": 1.3},
  "encoding": {"y": {"field":"v","type":"quantitative","scale":{"domain":[-16.4,166.4]}}}},
 {"data": {"name": "years"}, "mark": {"type": "rule", "strokeWidth": 2, "color": "black"},
  "encoding": {"x": {"field":"date","type":"temporal","scale":{"domain":[{"year":2015,"month":10,"date":2,"utc":true},{"year":2018,"month":2,"date":15,"utc":true}]}}}},
 {"data": {"name": "pspa"}, "mark": {"type": "line", "strokeDash": [2, 4], "strokeWidth": 2.2},
  "encoding": {
   "x": {"field":"date","type":"temporal","scale":{"domain":[{"year":2015,"month":10,"date":2,"utc":true},{"year":2018,"month":2,"date":15,"utc":true}]}},
   "y": {"field":"v","type":"quantitative","scale":{"domain":[-16.4,166.4]}},
   "stroke": {"field":"series","type":"nominal","scale":{"domain":["M2","S2"],"range":["#ffa500","#000000"]},"legend":{"orient":"none","legendX":52.5,"legendY":23,"title":null,"symbolType":"M-2,0H2","symbolSize":342,"symbolStrokeWidth":3.5,"symbolDash":[1,0],"labelOffset":24.5,"rowPadding":2.5}}
  }},
 {"data": {"name": "pspa"}, "mark": {"type": "point", "filled": true, "opacity": 1, "size": 225, "strokeWidth": 0},
  "encoding": {
   "x": {"field":"date","type":"temporal","scale":{"domain":[{"year":2015,"month":10,"date":2,"utc":true},{"year":2018,"month":2,"date":15,"utc":true}]},
      "axis":{"title":null,"tickCount":100,"labelOverlap":false,"labelExpr":"utcmonth(datum.value)==0 ? \"'\"+utcFormat(datum.value,'%y') : slice(utcFormat(datum.value,'%b'),0,1)","values":[{"year":2015,"month":11,"date":1,"utc":true},{"year":2015,"month":12,"date":1,"utc":true},{"year":2016,"month":1,"date":1,"utc":true},{"year":2016,"month":2,"date":1,"utc":true},{"year":2016,"month":3,"date":1,"utc":true},{"year":2016,"month":4,"date":1,"utc":true},{"year":2016,"month":5,"date":1,"utc":true},{"year":2016,"month":6,"date":1,"utc":true},{"year":2016,"month":7,"date":1,"utc":true},{"year":2016,"month":8,"date":1,"utc":true},{"year":2016,"month":9,"date":1,"utc":true},{"year":2016,"month":10,"date":1,"utc":true},{"year":2016,"month":11,"date":1,"utc":true},{"year":2016,"month":12,"date":1,"utc":true},{"year":2017,"month":1,"date":1,"utc":true},{"year":2017,"month":2,"date":1,"utc":true},{"year":2017,"month":3,"date":1,"utc":true},{"year":2017,"month":4,"date":1,"utc":true},{"year":2017,"month":5,"date":1,"utc":true},{"year":2017,"month":6,"date":1,"utc":true},{"year":2017,"month":7,"date":1,"utc":true},{"year":2017,"month":8,"date":1,"utc":true},{"year":2017,"month":9,"date":1,"utc":true},{"year":2017,"month":10,"date":1,"utc":true},{"year":2017,"month":11,"date":1,"utc":true},{"year":2017,"month":12,"date":1,"utc":true},{"year":2018,"month":1,"date":1,"utc":true}]}},
   "y": {"field":"v","type":"quantitative","scale":{"domain":[-16.4,166.4]},"axis":{"values":[0,20,40,60,80,100,120,140,160],"tickCount":100,"labelOverlap":false,"title":"Normalised saturation [%]"}},
   "color": {"field":"series","type":"nominal","scale":{"domain":["M2","S2"],"range":["#ffa500","#000000"]},"legend":null},
   "shape": {"field":"q","type":"nominal","scale":{"domain":["G","V","C"],"range":["M-0.12,-1H0.12V1H-0.12ZM-1,-0.12H1V0.12H-1ZM-0.792,-0.622L-0.622,-0.792L0.792,0.622L0.622,0.792ZM-0.622,0.792L-0.792,0.622L0.622,-0.792L0.792,-0.622Z","M0.6,0A0.6,0.6,0,1,1,-0.6,0A0.6,0.6,0,1,1,0.6,0Z","M0,-0.66L0.75,0.55L-0.75,0.55Z"]},"legend":null}
  }},
 {"data": {"values": [{"date":"2017-01-11","date2":"2017-01-23","v":5.2,"v2":-10.8},{"date":"2017-12-08","date2":"2017-12-21","v":164,"v2":85.3}]},
  "mark": {"type": "rect", "filled": false, "color": "#2f5f9a", "strokeWidth": 1.8},
  "encoding": {"x": {"field":"date","type":"temporal","scale":{"domain":[{"year":2015,"month":10,"date":2,"utc":true},{"year":2018,"month":2,"date":15,"utc":true}]}}, "x2": {"field":"date2"}, "y": {"field":"v","type":"quantitative","scale":{"domain":[-16.4,166.4]}}, "y2": {"field":"v2"}}},
 {"data": {"values": [{"date":"2017-01-30","v":-7.8,"label":"Frost"},{"date":"2017-12-27","v":86,"label":"ROS"}]},
  "mark": {"type": "text", "align": "left", "baseline": "middle", "fontSize": 17, "fontWeight": "bold", "font": "Liberation Sans", "color": "black"},
  "encoding": {"x": {"field":"date","type":"temporal","scale":{"domain":[{"year":2015,"month":10,"date":2,"utc":true},{"year":2018,"month":2,"date":15,"utc":true}]}}, "y": {"field":"v","type":"quantitative","scale":{"domain":[-16.4,166.4]}}, "text": {"field":"label"}}}
]
},
{
"width": 788, "height": 295,
"title": {"text": "N−PSpA", "color": "#1f9a1f"},
"layer": [
 {"data": {"name": "hlines"}, "mark": {"type": "rule", "strokeDash": [2, 3], "color": "#555555", "strokeWidth": 1.3},
  "encoding": {"y": {"field":"v","type":"quantitative","scale":{"domain":[-16.4,166.4]}}}},
 {"data": {"name": "years"}, "mark": {"type": "rule", "strokeWidth": 2, "color": "black"},
  "encoding": {"x": {"field":"date","type":"temporal","scale":{"domain":[{"year":2015,"month":10,"date":2,"utc":true},{"year":2018,"month":2,"date":15,"utc":true}]}}}},
 {"data": {"name": "npspa"}, "mark": {"type": "line", "strokeDash": [2, 4], "strokeWidth": 2.2},
  "encoding": {
   "x": {"field":"date","type":"temporal","scale":{"domain":[{"year":2015,"month":10,"date":2,"utc":true},{"year":2018,"month":2,"date":15,"utc":true}]}},
   "y": {"field":"v","type":"quantitative","scale":{"domain":[-16.4,166.4]}},
   "stroke": {"field":"series","type":"nominal","scale":{"domain":["M1","R2"],"range":["#0000ff","#a020f0"]},"legend":{"orient":"none","legendX":52.5,"legendY":24,"title":null,"symbolType":"M-2,0H2","symbolSize":342,"symbolStrokeWidth":3.5,"symbolDash":[1,0],"labelOffset":24.5,"rowPadding":2.5}}
  }},
 {"data": {"name": "npspa"}, "mark": {"type": "point", "filled": true, "opacity": 1, "size": 225, "strokeWidth": 0},
  "encoding": {
   "x": {"field":"date","type":"temporal","scale":{"domain":[{"year":2015,"month":10,"date":2,"utc":true},{"year":2018,"month":2,"date":15,"utc":true}]},
      "axis":{"title":null,"tickCount":100,"labelOverlap":false,"labelExpr":"utcmonth(datum.value)==0 ? \"'\"+utcFormat(datum.value,'%y') : slice(utcFormat(datum.value,'%b'),0,1)","values":[{"year":2015,"month":11,"date":1,"utc":true},{"year":2015,"month":12,"date":1,"utc":true},{"year":2016,"month":1,"date":1,"utc":true},{"year":2016,"month":2,"date":1,"utc":true},{"year":2016,"month":3,"date":1,"utc":true},{"year":2016,"month":4,"date":1,"utc":true},{"year":2016,"month":5,"date":1,"utc":true},{"year":2016,"month":6,"date":1,"utc":true},{"year":2016,"month":7,"date":1,"utc":true},{"year":2016,"month":8,"date":1,"utc":true},{"year":2016,"month":9,"date":1,"utc":true},{"year":2016,"month":10,"date":1,"utc":true},{"year":2016,"month":11,"date":1,"utc":true},{"year":2016,"month":12,"date":1,"utc":true},{"year":2017,"month":1,"date":1,"utc":true},{"year":2017,"month":2,"date":1,"utc":true},{"year":2017,"month":3,"date":1,"utc":true},{"year":2017,"month":4,"date":1,"utc":true},{"year":2017,"month":5,"date":1,"utc":true},{"year":2017,"month":6,"date":1,"utc":true},{"year":2017,"month":7,"date":1,"utc":true},{"year":2017,"month":8,"date":1,"utc":true},{"year":2017,"month":9,"date":1,"utc":true},{"year":2017,"month":10,"date":1,"utc":true},{"year":2017,"month":11,"date":1,"utc":true},{"year":2017,"month":12,"date":1,"utc":true},{"year":2018,"month":1,"date":1,"utc":true}]}},
   "y": {"field":"v","type":"quantitative","scale":{"domain":[-16.4,166.4]},"axis":{"values":[0,20,40,60,80,100,120,140,160],"tickCount":100,"labelOverlap":false,"title":"Normalised saturation [%]"}},
   "color": {"field":"series","type":"nominal","scale":{"domain":["M1","R2"],"range":["#0000ff","#a020f0"]},"legend":null},
   "shape": {"field":"q","type":"nominal","scale":{"domain":["G","V","C"],"range":["M-0.12,-1H0.12V1H-0.12ZM-1,-0.12H1V0.12H-1ZM-0.792,-0.622L-0.622,-0.792L0.792,0.622L0.622,0.792ZM-0.622,0.792L-0.792,0.622L0.622,-0.792L0.792,-0.622Z","M0.6,0A0.6,0.6,0,1,1,-0.6,0A0.6,0.6,0,1,1,0.6,0Z","M0,-0.66L0.75,0.55L-0.75,0.55Z"]},"legend":null}
  }},
 {"data": {"values": [{"date":"2017-01-12","date2":"2017-01-23","v":9.3,"v2":-6.6},{"date":"2017-12-08","date2":"2017-12-21","v":147,"v2":113}]},
  "mark": {"type": "rect", "filled": false, "color": "#2f5f9a", "strokeWidth": 1.8},
  "encoding": {"x": {"field":"date","type":"temporal","scale":{"domain":[{"year":2015,"month":10,"date":2,"utc":true},{"year":2018,"month":2,"date":15,"utc":true}]}}, "x2": {"field":"date2"}, "y": {"field":"v","type":"quantitative","scale":{"domain":[-16.4,166.4]}}, "y2": {"field":"v2"}}},
 {"data": {"values": [{"date":"2017-01-30","v":-4,"label":"Frost"},{"date":"2017-12-27","v":111,"label":"ROS"}]},
  "mark": {"type": "text", "align": "left", "baseline": "middle", "fontSize": 17, "fontWeight": "bold", "font": "Liberation Sans", "color": "black"},
  "encoding": {"x": {"field":"date","type":"temporal","scale":{"domain":[{"year":2015,"month":10,"date":2,"utc":true},{"year":2018,"month":2,"date":15,"utc":true}]}}, "y": {"field":"v","type":"quantitative","scale":{"domain":[-16.4,166.4]}}, "text": {"field":"label"}}},
 {"data": {"values": [{"date":"2016-03-14","v":-47.9,"label":"HY 2015-2016"},{"date":"2017-03-25","v":-47.9,"label":"HY 2016-2017"},{"date":"2017-12-13","v":-47.9,"label":"Start HY"},{"date":"2017-12-13","v":-63.3,"label":"2017-2018"}]},
  "mark": {"type": "text", "align": "center", "baseline": "middle", "fontSize": 18, "fontWeight": "bold", "font": "Liberation Sans", "color": "black"},
  "encoding": {"x": {"field":"date","type":"temporal","scale":{"domain":[{"year":2015,"month":10,"date":2,"utc":true},{"year":2018,"month":2,"date":15,"utc":true}]}}, "y": {"field":"v","type":"quantitative","scale":{"domain":[-16.4,166.4]}}, "text": {"field":"label"}}}
]
}
]
}
],
"config": {
 "view": {"stroke": "black", "strokeWidth": 1.5},
 "font": "Liberation Sans",
 "axis": {"grid": false, "domain": false, "tickColor": "black", "tickWidth": 1.2, "labelFont": "Liberation Sans", "titleFont": "Liberation Sans"},
 "axisX": {"labelFontSize": 11, "labelColor": "#333333", "tickSize": 6, "labelPadding": 7, "labelFlush": false, "labelOverlap": false},
 "axisY": {"labelFontSize": 16, "labelFontWeight": "bold", "labelColor": "black", "tickSize": 5, "labelPadding": 3, "titleFontSize": 19, "titleFontWeight": "bold", "titleColor": "black", "labelOverlap": false},
 "axisLeft": {"titleX": -38},
 "legend": {"labelFont": "Liberation Sans", "labelFontSize": 19, "labelColor": "black", "padding": 0},
 "title": {"font": "Liberation Sans", "fontSize": 38, "fontWeight": "bold", "anchor": "middle", "frame": "group", "baseline": "alphabetic", "offset": 11.5}
}
}
